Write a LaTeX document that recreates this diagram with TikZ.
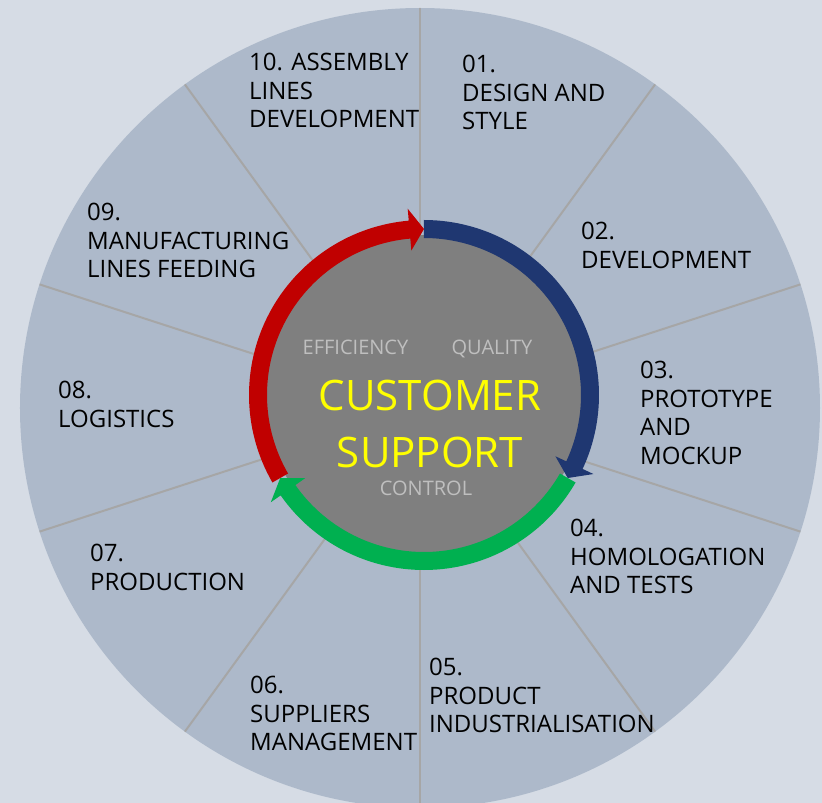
\documentclass[tikz,border=0pt]{standalone}
\usepackage{fontspec}
\setmainfont{Open Sans}
\definecolor{bg}{HTML}{D6DCE5}
\definecolor{wheel}{HTML}{ADB9CA}
\definecolor{divider}{HTML}{A6A6A6}
\definecolor{hub}{HTML}{7F7F7F}
\definecolor{arred}{HTML}{C00000}
\definecolor{arblue}{HTML}{1F3771}
\definecolor{argreen}{HTML}{00B050}
\definecolor{softtext}{HTML}{BFBFBF}
\newcommand\ringarrow[3]{%
  \pgfmathsetmacro\hb{#3+5}%
  \fill[#1] (#2:175) arc[start angle=#2, end angle=\hb, radius=175]
    -- (\hb:187) -- (#3:166) -- (\hb:145) -- (\hb:157)
    arc[start angle=\hb, end angle=#2, radius=157] -- cycle;}
\begin{document}
\begin{tikzpicture}[x=1pt,y=1pt,
  lbl/.style={anchor=north west, inner sep=0pt, align=left,
    font=\fontsize{24}{28.5}\selectfont, text=black},
  softlbl/.style={anchor=base, inner sep=0pt, font=\fontsize{20}{24}\selectfont, text=softtext},
  divline/.style={draw=divider, line width=2pt}]
\useasboundingbox (-424,-408) rectangle (398,395);
\clip (-424,-408) rectangle (398,395);
\fill[bg] (-424,-408) rectangle (398,395);
\coordinate (bigc) at (-4,-13);
\fill[wheel] (bigc) circle[radius=400];
\foreach \a in {90,54,18,-18,-54,-90,-126,-162,162,126}
  \draw[divline] (bigc) -- ++(\a:400);
\coordinate (hubc) at (0,0);
\fill[hub] (hubc) circle[radius=160];
\ringarrow{arblue}{90}{-30}
\ringarrow{argreen}{-30}{-150}
\ringarrow{arred}{210}{90}
\node[lbl] (l10) at (-175,342) {10. ASSEMBLY\\LINES\\DEVELOPMENT};
\node[lbl] (l01) at (38,340) {01.\\DESIGN AND\\STYLE};
\node[lbl] (l02) at (157,173) {02.\\DEVELOPMENT};
\node[lbl] (l03) at (216,34) {03.\\PROTOTYPE\\AND\\MOCKUP};
\node[lbl] (l04) at (146,-124) {04.\\HOMOLOGATION\\AND TESTS};
\node[lbl] (l05) at (5,-263) {05.\\PRODUCT\\INDUSTRIALISATION};
\node[lbl] (l06) at (-174,-281) {06.\\SUPPLIERS\\MANAGEMENT};
\node[lbl] (l07) at (-334,-149) {07.\\PRODUCTION};
\node[lbl] (l08) at (-366,14) {08.\\LOGISTICS};
\node[lbl] (l09) at (-337,192) {09.\\MANUFACTURING\\LINES FEEDING};
\node[inner sep=0pt, align=center, text={rgb,255:red,255;green,255;blue,0},
  font=\fontsize{42}{57}\selectfont] (cs) at (6,-28.5) {CUSTOMER\\SUPPORT};
\node[softlbl] (eff) at (-68.5,40) {EFFICIENCY};
\node[softlbl] (qual) at (68,40) {QUALITY};
\node[softlbl] (ctrl) at (2,-100) {CONTROL};
\end{tikzpicture}
\end{document}
